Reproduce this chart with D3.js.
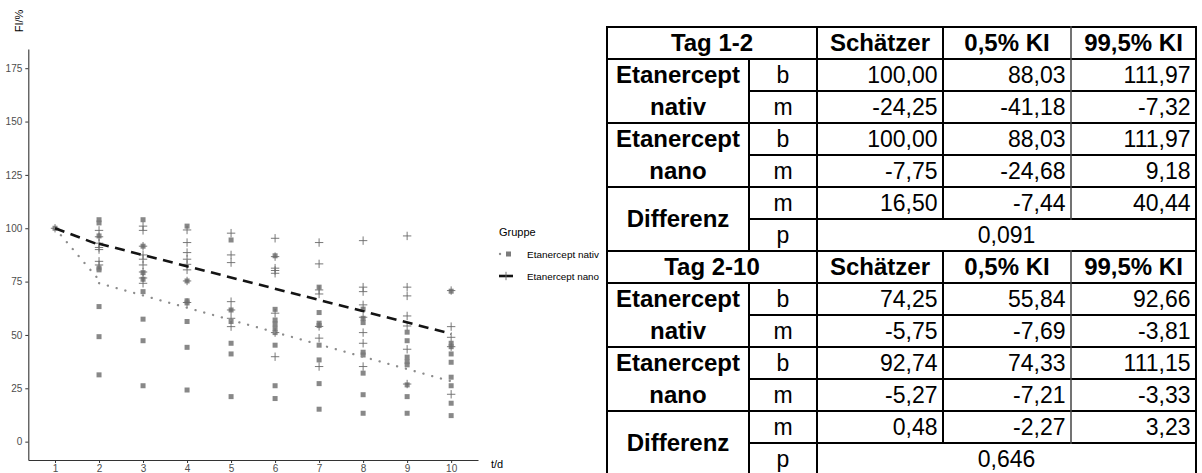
<!DOCTYPE html>
<html>
<head>
<meta charset="utf-8">
<script src="https://cdn.jsdelivr.net/npm/d3@7"></script>
<style>
  html, body { margin: 0; padding: 0; background: #fff; }
  svg { display: block; }
</style>
</head>
<body>
<svg id="chart" width="1202" height="473"></svg>
<script>
// ---- data -------------------------------------------------------------
const days = [1, 2, 3, 4, 5, 6, 7, 8, 9, 10];

// FI/% per day, group "Etanercept nativ"
const nativValues = [
  [100],
  [104, 102.5, 96.4, 81.4, 80.5, 63.3, 49.2, 31.3],
  [104, 91.6, 79.2, 76.1, 70.3, 57.4, 47.3, 26.2],
  [101, 75.3, 66, 65, 56.3, 44.2, 24.2],
  [94.5, 61.7, 56.3, 46.1, 41.1, 21.1],
  [87.1, 62, 57, 55.2, 53.1, 51.1, 45.2, 26.2, 20.2],
  [72.4, 60.5, 55.5, 54.4, 45.2, 38.3, 27.2, 15.2],
  [62.1, 57.8, 55.8, 41.9, 40.6, 32.1, 22, 13.3],
  [51.3, 47.3, 39.6, 37.5, 36, 26.6, 21.1, 13.3],
  [70.5, 46.1, 44.5, 41.1, 37.2, 30.2, 26.2, 18, 12.2]
];

// FI/% per day, group "Etanercept nano"
const nanoValues = [
  [100],
  [99, 96, 93, 91, 90, 84.5, 82.8],
  [101, 99, 91.6, 87.5, 85.5, 82.8, 79.5, 76.7, 74.2],
  [99.2, 93.3, 88.6, 85.5, 83.1, 80.5, 75.3, 65.2],
  [97.7, 87.5, 83.9, 65.6, 61.7, 57.8, 53.9],
  [95.3, 86.7, 81.3, 80.2, 78.9, 60.2, 51.1, 39.8],
  [93.3, 83.3, 71.1, 69.2, 54, 48.5, 35.2],
  [94.2, 72.4, 70.3, 64.1, 58.3, 51.1, 46.1, 35.2],
  [96.4, 72.4, 68.3, 58.9, 54.2, 43.3, 27],
  [70.8, 53.9, 48.9, 44.5, 22.2]
];

const yTicks = [0, 25, 50, 75, 100, 125, 150, 175];
const groupNames = ["Etanercept nativ", "Etanercept nano"];

// regression estimates: [Schätzer, 0,5% KI, 99,5% KI]
const tag12NativB = [100.00, 88.03, 111.97];
const tag12NativM = [-24.25, -41.18, -7.32];
const tag12NanoB  = [100.00, 88.03, 111.97];
const tag12NanoM  = [-7.75, -24.68, 9.18];
const tag12DiffM  = [16.50, -7.44, 40.44];
const tag12DiffP  = 0.091;

const tag210NativB = [74.25, 55.84, 92.66];
const tag210NativM = [-5.75, -7.69, -3.81];
const tag210NanoB  = [92.74, 74.33, 111.15];
const tag210NanoM  = [-5.27, -7.21, -3.33];
const tag210DiffM  = [0.48, -2.27, 3.23];
const tag210DiffP  = 0.646;

const headers = ["Schätzer", "0,5% KI", "99,5% KI"];

// ---- scatter plot ----------------------------------------------------
const svg = d3.select("#chart");

const x = d3.scaleLinear().domain([0.393, 10.61]).range([28.3, 478]);
const y = d3.scaleLinear().domain([-8.6, 184]).range([460, 49]);

const plot = svg.append("g");

// fitted piecewise lines: day 1-2 and day 2-10
function segments(b12, m12, b210, m210) {
  return [
    [[1, b12], [2, b12 + m12]],
    [[2, b210], [10, b210 + m210 * 8]]
  ];
}
const line = d3.line().x(d => x(d[0])).y(d => y(d[1]));

const pointsNativ = [];
nativValues.forEach((vals, i) => vals.forEach(v => pointsNativ.push([days[i], v])));
const pointsNano = [];
nanoValues.forEach((vals, i) => vals.forEach(v => pointsNano.push([days[i], v])));

const sq = 5;
plot.append("g").selectAll("rect").data(pointsNativ).join("rect")
  .attr("x", d => x(d[0]) - sq / 2).attr("y", d => y(d[1]) - sq / 2)
  .attr("width", sq).attr("height", sq)
  .attr("fill", "#7b7b7b").attr("fill-opacity", 0.9);

const ps = 4.2;
plot.append("g").selectAll("path").data(pointsNano).join("path")
  .attr("d", d => {
    const cx = x(d[0]), cy = y(d[1]);
    return `M${cx - ps},${cy}H${cx + ps}M${cx},${cy - ps}V${cy + ps}`;
  })
  .attr("stroke", "#6a6a6a").attr("stroke-width", 0.9).attr("fill", "none");

segments(tag12NativB[0], tag12NativM[0], tag210NativB[0], tag210NativM[0]).forEach(s => {
  plot.append("path").attr("d", line(s))
    .attr("fill", "none").attr("stroke", "#8c8c8c").attr("stroke-width", 2.3)
    .attr("stroke-linecap", "round").attr("stroke-dasharray", "0.1 9");
});
segments(tag12NanoB[0], tag12NanoM[0], tag210NanoB[0], tag210NanoM[0]).forEach(s => {
  plot.append("path").attr("d", line(s))
    .attr("fill", "none").attr("stroke", "#141414").attr("stroke-width", 2.6)
    .attr("stroke-dasharray", "10 6.5");
});

// axes
const yAxis = svg.append("g").attr("transform", "translate(28.3,0)")
  .call(d3.axisLeft(y).tickValues(yTicks).tickSize(3).tickPadding(3).tickSizeOuter(0));
const xAxis = svg.append("g").attr("transform", "translate(0,460)")
  .call(d3.axisBottom(x).tickValues(days).tickSize(3).tickPadding(2).tickSizeOuter(0));
[yAxis, xAxis].forEach(a => {
  a.select(".domain").attr("stroke", "#333").attr("stroke-width", 1.1);
  a.selectAll(".tick line").attr("stroke", "#333");
  a.selectAll(".tick text").attr("fill", "#4d4d4d")
    .style("font-family", "'Liberation Sans', Arial, sans-serif").style("font-size", "10px");
});

svg.append("text").attr("transform", "translate(23,21) rotate(-90)")
  .attr("text-anchor", "middle")
  .style("font-family", "'Liberation Sans', Arial, sans-serif").style("font-size", "11px")
  .text("FI/%");
svg.append("text").attr("x", 491).attr("y", 468)
  .style("font-family", "'Liberation Sans', Arial, sans-serif").style("font-size", "11px")
  .text("t/d");

// legend
const legend = svg.append("g").style("font-family", "'Liberation Sans', Arial, sans-serif");
legend.append("text").attr("x", 499).attr("y", 236).style("font-size", "11px").text("Gruppe");
const keyY = [254, 276];
legend.append("path").attr("d", `M500,${keyY[0]}H512`)
  .attr("stroke", "#8c8c8c").attr("stroke-width", 2.3).attr("stroke-linecap", "round")
  .attr("stroke-dasharray", "0.1 9");
legend.append("rect").attr("x", 508.5 - sq / 2).attr("y", keyY[0] - sq / 2)
  .attr("width", sq).attr("height", sq).attr("fill", "#7b7b7b");
legend.append("path").attr("d", `M499,${keyY[1]}H513`)
  .attr("stroke", "#141414").attr("stroke-width", 2.6);
legend.append("path").attr("d", `M506,${keyY[1] - ps}V${keyY[1] + ps}`)
  .attr("stroke", "#6a6a6a").attr("stroke-width", 0.9);
groupNames.forEach((n, i) => {
  legend.append("text").attr("x", 527).attr("y", keyY[i] + 3.5)
    .style("font-size", "9.3px").attr("textLength", 72).attr("lengthAdjust", "spacingAndGlyphs")
    .text(n);
});

// ---- estimates table -------------------------------------------------
const locale = d3.formatLocale({ decimal: ",", thousands: ".", grouping: [3], currency: ["", ""], minus: "-" });
const f2 = locale.format(".2f");
const f3 = locale.format(".3f");

const colX = [607, 749, 817, 943, 1071, 1196];
const rowTop = 27, rowH = 32;
const table = svg.append("g").style("font-family", "'Liberation Sans', Arial, sans-serif")
  .style("font-size", "23px");

function cellText(txt, c0, c1, r0, r1, align, bold) {
  const yMid = rowTop + rowH * (r0 + r1) / 2;
  let tx, anchor;
  if (align === "right") { tx = colX[c1] - 5.5; anchor = "end"; }
  else { tx = (colX[c0] + colX[c1]) / 2; anchor = "middle"; }
  const t = table.append("text").attr("x", tx).attr("y", yMid + 8)
    .attr("text-anchor", anchor).text(txt);
  if (bold) t.attr("font-weight", "bold").style("font-size", "24px");
}

const blocks = [
  { title: "Tag 1-2", rows: [tag12NativB, tag12NativM, tag12NanoB, tag12NanoM, tag12DiffM], p: tag12DiffP },
  { title: "Tag 2-10", rows: [tag210NativB, tag210NativM, tag210NanoB, tag210NanoM, tag210DiffM], p: tag210DiffP }
];
const rowLetters = ["b", "m", "b", "m", "m"];
const groupLabels = ["Etanercept", "nativ", "Etanercept", "nano"];
const hLines = [];
const vLines = [];

blocks.forEach((blk, bi) => {
  const r = bi * 7;
  cellText(blk.title, 0, 2, r, r + 1, "center", true);
  headers.forEach((h, i) => cellText(h, 2 + i, 3 + i, r, r + 1, "center", true));
  groupLabels.forEach((g, k) => cellText(g, 0, 1, r + 1 + k, r + 2 + k, "center", true));
  cellText("Differenz", 0, 1, r + 5, r + 7, "center", true);
  blk.rows.forEach((vals, k) => {
    cellText(rowLetters[k], 1, 2, r + 1 + k, r + 2 + k, "center", false);
    vals.forEach((v, j) => cellText(f2(v), 2 + j, 3 + j, r + 1 + k, r + 2 + k, "right", false));
  });
  cellText("p", 1, 2, r + 6, r + 7, "center", false);
  cellText(f3(blk.p), 2, 5, r + 6, r + 7, "center", false);

  // horizontal rules
  [0, 1, 3, 5, 7].forEach(k => hLines.push([colX[0], colX[5], r + k]));
  [2, 4, 6].forEach(k => hLines.push([colX[1], colX[5], r + k]));
  // vertical rules
  [0, 2, 5].forEach(c => vLines.push([colX[c], r, r + 7]));
  vLines.push([colX[1], r + 1, r + 7]);
  [3, 4].forEach(c => vLines.push([colX[c], r, r + 6]));
});

const rules = svg.append("g").attr("stroke", "#000").attr("stroke-width", 2);
hLines.forEach(([a, b, k]) => rules.append("line")
  .attr("x1", a - 1).attr("x2", b + 1).attr("y1", rowTop + rowH * k).attr("y2", rowTop + rowH * k));
vLines.forEach(([c, r0, r1]) => rules.append("line")
  .attr("x1", c).attr("x2", c).attr("y1", rowTop + rowH * r0 - 1).attr("y2", rowTop + rowH * r1 + 1)
  .attr("stroke", c === colX[4] ? "#444" : "#000").attr("stroke-width", c === colX[4] ? 1.5 : 2));
</script>
</body>
</html>
